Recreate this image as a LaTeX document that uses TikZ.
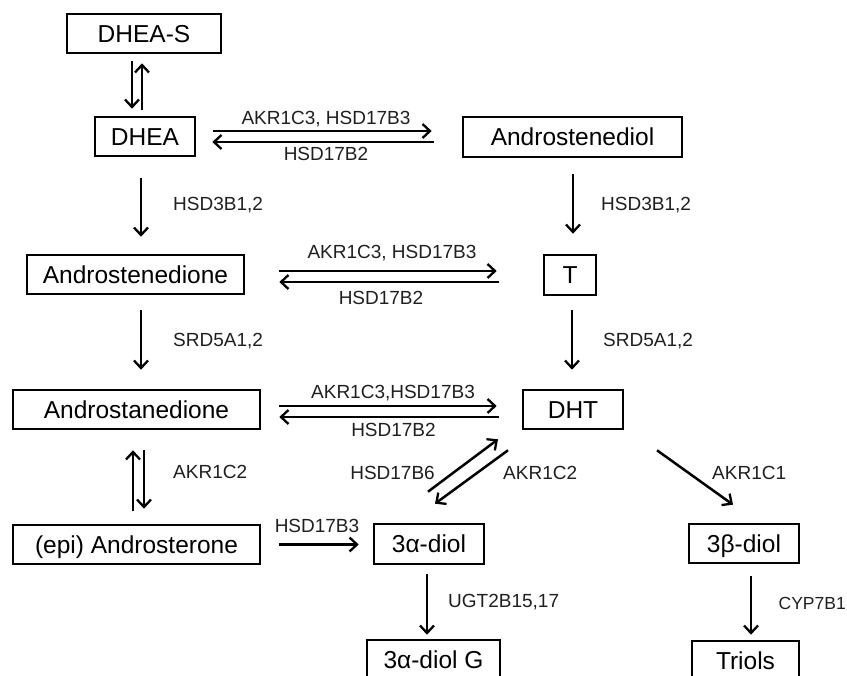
\documentclass[tikz,border=0pt]{standalone}
\usepackage{fontspec}
\setmainfont{Liberation Sans}
\usetikzlibrary{arrows.meta,calc}
\begin{document}
\begin{tikzpicture}[x=1pt,y=-1pt,
  box/.style={draw=black,line width=2.6pt,inner sep=0pt,font=\fontsize{24.5}{26}\selectfont,
    text height=19.5pt,text depth=1.8pt,align=center},
  lab/.style={inner sep=0pt,font=\fontsize{19}{21}\selectfont,text=black!88},
  arr/.style={line width=2.5pt,-{Straight Barb[length=7.5pt,width=14pt,line width=2.3pt]}}]
\useasboundingbox (0,0) rectangle (847,676);
% boxes
\node[box,minimum width=154pt,minimum height=39pt] (dheas) at (144,33.5) {DHEA-S};
\node[box,minimum width=100pt,minimum height=39pt] (dhea) at (145,136.5) {DHEA};
\node[box,minimum width=219pt,minimum height=40pt] (adiol) at (572.5,137) {Androstenediol};
\node[box,minimum width=217pt,minimum height=39pt] (adione) at (135.5,274.5) {Androstenedione};
\node[box,minimum width=52pt,minimum height=40pt] (T) at (570,275) {T};
\node[box,minimum width=247pt,minimum height=39pt] (astan) at (136.5,409.5) {Androstanedione};
\node[box,minimum width=100pt,minimum height=39pt] (DHT) at (573,409.5) {DHT};
\node[box,minimum width=247pt,minimum height=39pt] (andros) at (136.5,544.5) {(epi) Androsterone};
\node[box,minimum width=110pt,minimum height=40pt] (a3) at (429,544) {3α-diol};
\node[box,minimum width=110pt,minimum height=39pt] (b3) at (744,543.5) {3β-diol};
\node[box,minimum width=133pt,minimum height=39pt] (G) at (433.5,659.5) {3α-diol G};
\node[box,minimum width=107pt,minimum height=39pt] (triols) at (745.5,660.5) {Triols};
% labels
\node[lab] (l1a) at (326,119) {AKR1C3, HSD17B3};
\node[lab] (l1b) at (326,154) {HSD17B2};
\node[lab,anchor=west] (l2) at (173,205) {HSD3B1,2};
\node[lab,anchor=west] (l3) at (601,205) {HSD3B1,2};
\node[lab] (l4a) at (392,253) {AKR1C3, HSD17B3};
\node[lab] (l4b) at (381,298) {HSD17B2};
\node[lab,anchor=west] (l5) at (173,341) {SRD5A1,2};
\node[lab,anchor=west] (l6) at (603,341) {SRD5A1,2};
\node[lab] (l7a) at (393,393) {AKR1C3,HSD17B3};
\node[lab] (l7b) at (393.5,430) {HSD17B2};
\node[lab,anchor=west] (l8) at (173,472) {AKR1C2};
\node[lab,anchor=east] (l9) at (435,473) {HSD17B6};
\node[lab,anchor=west] (l10) at (503,473) {AKR1C2};
\node[lab,anchor=west] (l11) at (712,473) {AKR1C1};
\node[lab] (l12) at (317,526) {HSD17B3};
\node[lab,anchor=west] (l13) at (448,602) {UGT2B15,17};
\node[lab,anchor=east,font=\fontsize{17.5}{20}\selectfont] (l14) at (846,603) {CYP7B1};
% arrows
\draw[arr] ($(dheas.south)+(-12,7)$) -- ($(dhea.north)+(-13,-7)$);
\draw[arr] ($(dhea.north)+(-3,-6)$) -- ($(dheas.south)+(-2,9)$);
\draw[arr] ($(dhea.east)+(17,-5.5)$) -- ($(adiol.west)+(-30,-6)$);
\draw[arr] ($(adiol.west)+(-28,5)$) -- ($(dhea.east)+(16,5.5)$);
\draw[arr] ($(dhea.south)+(-4,21)$) -- ($(adione.north)+(5.5,-17)$);
\draw[arr] ($(adiol.south)+(0.5,16)$) -- ($(T.north)+(3,-20)$);
\draw[arr] ($(adione.east)+(34,-3.5)$) -- ($(T.west)+(-46,-4)$);
\draw[arr] ($(T.west)+(-44,7)$) -- ($(adione.east)+(34,7.5)$);
\draw[arr] ($(adione.south)+(5.5,15)$) -- ($(astan.north)+(4.5,-19)$);
\draw[arr] ($(T.south)+(2,14)$) -- ($(DHT.north)+(-1,-19)$);
\draw[arr] ($(astan.east)+(18,-3.5)$) -- ($(DHT.west)+(-25,-3.5)$);
\draw[arr] ($(DHT.west)+(-23,7.5)$) -- ($(astan.east)+(18,7.5)$);
\draw[arr] ($(andros.north)+(-3.5,-13)$) -- ($(astan.south)+(-3.5,20)$);
\draw[arr] ($(astan.south)+(7.5,20)$) -- ($(andros.north)+(7.5,-15)$);
\draw[arr] ($(andros.east)+(18,0)$) -- ($(a3.west)+(-14,0.5)$);
\draw[arr] ($(a3.north)+(-1,-31)$) -- ($(DHT.south)+(-75,9)$);
\draw[arr] ($(DHT.south)+(-65,20)$) -- ($(a3.north)+(6,-19)$);
\draw[arr] ($(DHT.south)+(84,20)$) -- ($(b3.north)+(-11,-18)$);
\draw[arr] ($(a3.south)+(-2,9)$) -- ($(G.north)+(-6.5,-4)$);
\draw[arr] ($(b3.south)+(7,12)$) -- ($(triols.north)+(5.5,-5)$);
\end{tikzpicture}
\end{document}
